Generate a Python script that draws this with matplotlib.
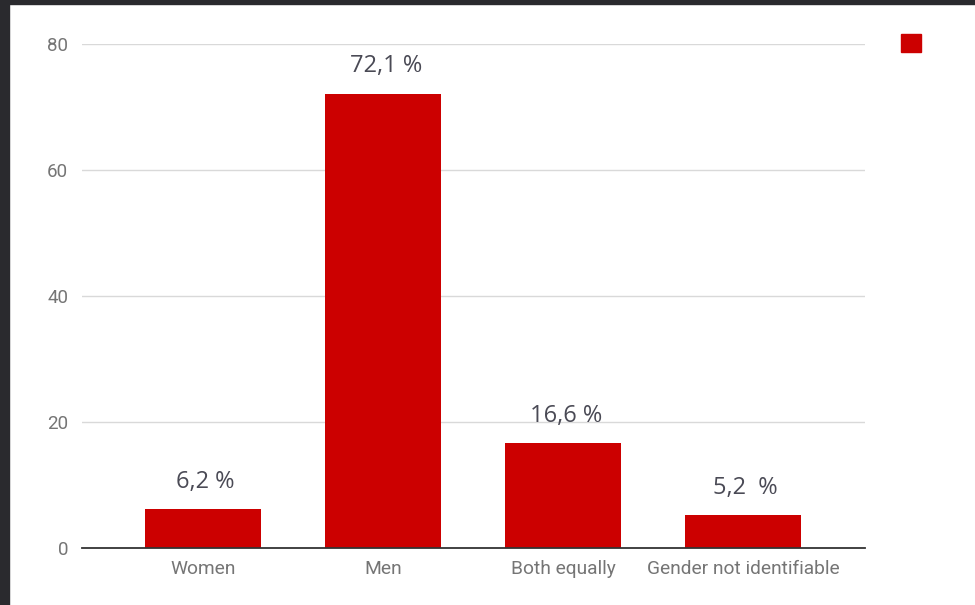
import matplotlib.pyplot as plt
from matplotlib.patches import Rectangle, Patch

# shares of each answer (percent)
categories = ["Women", "Men", "Both equally", "Gender not identifiable"]
shares = [6.2, 72.1, 16.6, 5.2]
share_labels = ["6,2 %", "72,1 %", "16,6 %", "5,2  %"]
y_ticks = [0, 20, 40, 60, 80]

bar_color = "#cc0000"

fig = plt.figure(figsize=(9.75, 6.05), dpi=100)
fig.patch.set_facecolor("white")

# dark frame strips along left and top edges
fig.patches.append(Rectangle((0, 0), 9 / 975, 1, transform=fig.transFigure,
                             color="#2a2a2e", zorder=10))
fig.patches.append(Rectangle((0, 1 - 4 / 605), 1, 4 / 605, transform=fig.transFigure,
                             color="#2a2a2e", zorder=10))

ax = fig.add_axes([82 / 975, 57 / 605, 783 / 975, 504 / 605])

x = list(range(len(categories)))
bars = ax.bar(x, shares, width=0.645, color=bar_color, zorder=3)

for bar, lab in zip(bars, share_labels):
    ax.annotate(lab, (bar.get_x() + bar.get_width() / 2, bar.get_height()),
                xytext=(2, 11), textcoords="offset points",
                ha="center", va="bottom", fontsize=17,
                color="#4a4a55", family="Open Sans")

ax.set_xlim(-0.672, 3.678)
ax.set_ylim(0, 80)
ax.set_yticks(y_ticks)
ax.set_xticks(x)
ax.set_xticklabels(categories)

ax.grid(axis="y", color="#d9d9d9", linewidth=1, zorder=0)
ax.set_axisbelow(True)
for side in ["top", "right", "left"]:
    ax.spines[side].set_visible(False)
ax.spines["bottom"].set_color("#333333")
ax.spines["bottom"].set_linewidth(1.3)
ax.spines["bottom"].set_zorder(4)

ax.tick_params(axis="y", length=0, pad=10, labelsize=13.5, labelcolor="#757575")
ax.tick_params(axis="x", length=0, pad=9, labelsize=13.8, labelcolor="#757575")
for t in ax.get_xticklabels() + ax.get_yticklabels():
    t.set_family("Roboto")

# legend marker with no text
fig.legend(handles=[Patch(facecolor=bar_color, edgecolor=bar_color)], labels=[""],
           loc="center", bbox_to_anchor=(911 / 975, 1 - 44 / 605),
           frameon=False, handlelength=1.0, handleheight=1.0,
           handletextpad=0, borderpad=0, fontsize=14)

fig.savefig("out.png", dpi=100)
